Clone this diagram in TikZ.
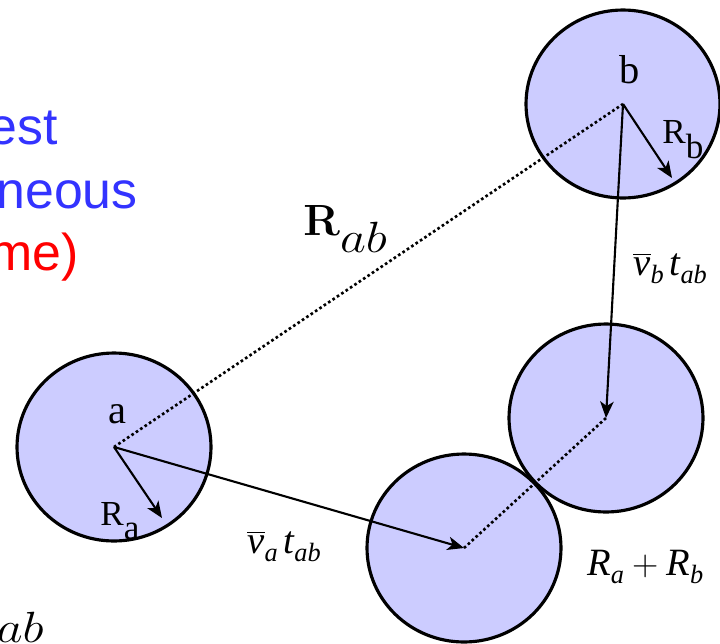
\documentclass[tikz,border=0pt]{standalone}
\usepackage[no-math]{fontspec}
\usepackage{graphicx}
\setmainfont{Liberation Serif}
\newfontfamily\labelsans{Liberation Sans}
\usetikzlibrary{arrows.meta, shapes.geometric}
\definecolor{ballfill}{HTML}{CCCCFF}
\definecolor{txtblue}{HTML}{3333FF}
\definecolor{txtred}{HTML}{FF0000}
\newcommand{\ivar}[1]{\hbox{\fontsize{22}{22}\selectfont\itshape #1}}
\newcommand{\isub}[1]{\raisebox{-5pt}{\fontsize{15}{15}\selectfont\itshape #1}}
\newcommand{\bigab}{\raisebox{-10pt}{\scalebox{1.15}[1]{\fontsize{26}{26}\selectfont$ab$}}}
\tikzset{
  ball/.style    = {ellipse, draw=black, fill=ballfill, line width=1.8pt,
                    minimum width=3.88cm, minimum height=3.76cm, inner sep=0pt},
  movearr/.style = {draw=black, line width=1.2pt,
                    -{Stealth[length=3.3mm, width=2.7mm, inset=0.9mm]}},
  radarr/.style  = {movearr},
  sepline/.style = {draw=black, line width=1.5pt, dash pattern=on 1.5pt off 1.5pt},
  ctrlbl/.style  = {font=\fontsize{23}{23}\selectfont, anchor=base, inner sep=0pt},
  radlbl/.style  = {font=\fontsize{20}{20}\selectfont, anchor=base west, inner sep=0pt},
  eqlbl/.style   = {font=\fontsize{22}{26}\selectfont, anchor=base west, inner sep=0pt},
  sidetxt/.style = {font=\labelsans\fontsize{29.5}{35}\selectfont, anchor=base east, inner sep=0pt},
}

\begin{document}
\begin{tikzpicture}[x=0.02cm, y=-0.02cm]
  \useasboundingbox (0,0) rectangle (720,643);
  \clip (0,0) rectangle (720,643);
  % the two spheres, now and at closest approach
  \node[ball] (b)  at (623,104) {};
  \node[ball] (b2) at (606,418) {};
  \node[ball] (a)  at (114,447) {};
  \node[ball] (a2) at (464,548) {};
  \coordinate (ra) at (162,518);
  \coordinate (rb) at (672,178);
  % separations
  \draw[sepline] (a.center) -- (b.center);
  \draw[sepline] (a2.center) -- (b2.center);
  % displacements and radii
  \draw[movearr] (a.center) -- (a2.center);
  \draw[movearr] (b.center) -- (b2.center);
  \draw[radarr] (a.center) -- (ra);
  \draw[radarr] (b.center) -- (rb);
  % labels
  \node[ctrlbl] (lbla) at (117,423) {a};
  \node[ctrlbl] (lblb) at (630,83) {b};
  \node[radlbl] (lblra) at (100,525) {R\raisebox{-8.5pt}{a}};
  \node[radlbl] (lblrb) at (662,143) {R\raisebox{-9pt}{b}};
  \node[anchor=base west, inner sep=0pt] (lblrab) at (303,235)
       {\fontsize{28}{28}\selectfont$\mathbf{R}$\bigab};
  \node[eqlbl] (lblvb) at (633,275) {$\overline{\ivar{v}}\isub{b}\,\ivar{t}\isub{ab}$};
  \node[eqlbl] (lblva) at (247,553) {$\overline{\ivar{v}}\isub{a}\,\ivar{t}\isub{ab}$};
  \node[eqlbl] (lblsum) at (587,575) {$\ivar{R}\isub{a}+\ivar{R}\isub{b}$};
  % cut-off text on the left
  \node[sidetxt, text=txtblue] (t1) at (58,144) {est};
  \node[sidetxt, text=txtblue] (t2) at (138,208) {neous};
  \node[sidetxt, text=txtred] (t3) at (79,270) {me)};
  \node[anchor=base east, inner sep=0pt] (t4) at (44,625) {\bigab};
\end{tikzpicture}
\end{document}
